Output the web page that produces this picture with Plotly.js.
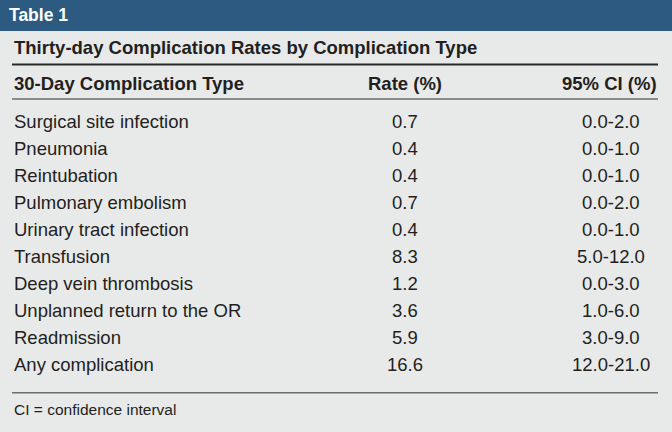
<!DOCTYPE html>
<html>
<head>
<meta charset="utf-8">
<script src="https://cdn.plot.ly/plotly-3.0.1.min.js"></script>
<style>html,body{margin:0;padding:0;background:#e8e9e9;}#chart{width:672px;height:432px;}</style>
</head>
<body>
<div id="chart"></div>
<script>
var tableLabel = "Table 1";
var tableTitle = "Thirty-day Complication Rates by Complication Type";
var columnHeaders = ["30-Day Complication Type", "Rate (%)", "95% CI (%)"];
var complicationTypes = [
  "Surgical site infection",
  "Pneumonia",
  "Reintubation",
  "Pulmonary embolism",
  "Urinary tract infection",
  "Transfusion",
  "Deep vein thrombosis",
  "Unplanned return to the OR",
  "Readmission",
  "Any complication"
];
var rates = ["0.7", "0.4", "0.4", "0.7", "0.4", "8.3", "1.2", "3.6", "5.9", "16.6"];
var ciRanges = ["0.0-2.0", "0.0-1.0", "0.0-1.0", "0.0-2.0", "0.0-1.0", "5.0-12.0", "0.0-3.0", "1.0-6.0", "3.0-9.0", "12.0-21.0"];
var footnote = "CI = confidence interval";

var FONT = "Liberation Sans, Arial, Helvetica, sans-serif";
var TXT = "#231f20";
var FS = 18.5;

var colX = { name: 12, rate: 405, ci: 611, right: 659 };
var yPos = { band: -3.93, title: -2.74, line1: -2.093, header: -1.407, line2: -0.815, line3: 10.063, foot: 10.667 };

function cell(x, y, text, anchor, size, color) {
  return { x: x, y: y, xref: "x", yref: "y", text: text, showarrow: false,
    xanchor: anchor, yanchor: "middle", font: { family: FONT, size: size, color: color || TXT } };
}

var annotations = [];
complicationTypes.forEach(function (t, i) {
  annotations.push(cell(colX.name, i, t, "left", FS));
  annotations.push(cell(colX.rate, i, rates[i], "center", FS));
  annotations.push(cell(colX.ci, i, ciRanges[i], "center", FS));
});
annotations.push(
  cell(7, yPos.band, "<b>" + tableLabel + "</b>", "left", 17.5, "#ffffff"),
  cell(colX.name, yPos.title, "<b>" + tableTitle + "</b>", "left", FS),
  cell(colX.name, yPos.header, "<b>" + columnHeaders[0] + "</b>", "left", FS),
  cell(colX.rate, yPos.header, "<b>" + columnHeaders[1] + "</b>", "center", FS),
  cell(colX.right, yPos.header, "<b>" + columnHeaders[2] + "</b>", "right", FS),
  cell(colX.name, yPos.foot, footnote, "left", 15.5)
);

var shapes = [
  { type: "rect", xref: "paper", yref: "paper", x0: 0, x1: 1, y0: 1 - 31 / 432, y1: 1,
    fillcolor: "#2c5a80", line: { width: 0 }, layer: "below" },
  { type: "line", xref: "x", yref: "y", x0: colX.name, x1: colX.right - 1, y0: yPos.line1, y1: yPos.line1,
    line: { color: "#2a2a2a", width: 2 } },
  { type: "line", xref: "x", yref: "y", x0: colX.name, x1: colX.right - 1, y0: yPos.line2, y1: yPos.line2,
    line: { color: "#6d6d6d", width: 1.5 } },
  { type: "line", xref: "x", yref: "y", x0: colX.name, x1: colX.right - 1, y0: yPos.line3, y1: yPos.line3,
    line: { color: "#6d6d6d", width: 1.5 } }
];

var layout = {
  width: 672, height: 432,
  margin: { l: 0, r: 0, t: 0, b: 0, pad: 0 },
  paper_bgcolor: "#e8e9e9", plot_bgcolor: "#e8e9e9",
  xaxis: { range: [0, 672], visible: false, fixedrange: true },
  yaxis: { range: [16 - 121 / 27, -121 / 27], visible: false, fixedrange: true },
  annotations: annotations, shapes: shapes, showlegend: false
};

Plotly.newPlot("chart", [], layout, { displayModeBar: false, staticPlot: true });
</script>
</body>
</html>
